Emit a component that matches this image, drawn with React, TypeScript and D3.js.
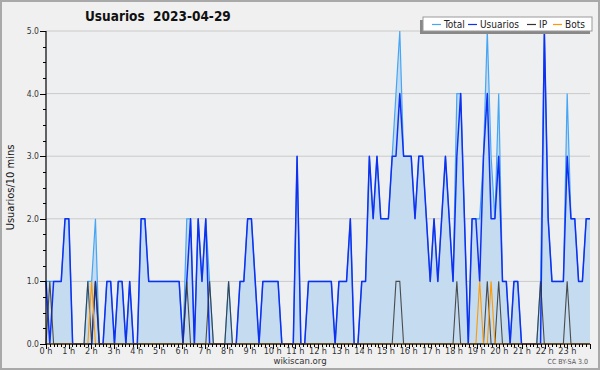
import * as d3 from "d3";

// 10-minute buckets, 0h00 .. 23h50 (144 values), rows of 2 hours
const USUARIOS = [
  1, 0, 1, 1, 1, 2, 2, 0, 0, 0, 0, 0,
  0, 1, 0, 0, 1, 1, 0, 1, 1, 0, 1, 0,
  0, 2, 2, 1, 1, 1, 1, 1, 1, 1, 1, 1,
  0, 1, 2, 0, 2, 1, 2, 0, 0, 0, 0, 0,
  0, 0, 0, 1, 1, 2, 2, 1, 0, 1, 1, 1,
  1, 1, 0, 0, 0, 0, 3, 0, 0, 1, 1, 1,
  1, 1, 1, 1, 0, 1, 1, 1, 2, 0, 0, 1,
  1, 3, 2, 3, 2, 2, 2, 3, 3, 4, 3, 3,
  3, 2, 3, 3, 2, 1, 2, 1, 2, 3, 2, 1,
  3, 4, 2, 0, 2, 2, 1, 3, 4, 2, 2, 3,
  1, 1, 0, 1, 1, 0, 0, 0, 0, 0, 0, 5,
  2, 1, 1, 1, 1, 3, 2, 2, 1, 1, 2, 2,
];

const IP = [
  0, 1, 0, 0, 0, 0, 0, 0, 0, 0, 0, 1,
  0, 1, 0, 0, 0, 0, 0, 0, 0, 0, 0, 0,
  0, 0, 0, 0, 0, 0, 0, 0, 0, 0, 0, 0,
  0, 1, 0, 0, 0, 0, 0, 1, 0, 0, 0, 0,
  1, 0, 0, 0, 0, 0, 0, 0, 0, 0, 0, 0,
  0, 0, 0, 0, 0, 0, 0, 0, 0, 0, 0, 0,
  0, 0, 0, 0, 0, 0, 0, 0, 0, 0, 0, 0,
  0, 0, 0, 0, 0, 0, 0, 0, 1, 1, 0, 0,
  0, 0, 0, 0, 0, 0, 0, 0, 0, 0, 0, 0,
  1, 0, 0, 0, 0, 0, 0, 0, 1, 0, 0, 1,
  0, 0, 0, 0, 0, 0, 0, 0, 0, 0, 1, 0,
  0, 0, 0, 0, 0, 1, 0, 0, 0, 0, 0, 0,
];

const BOTS = [
  0, 0, 0, 0, 0, 0, 0, 0, 0, 0, 0, 0,
  1, 0, 0, 0, 0, 0, 0, 0, 0, 0, 0, 0,
  0, 0, 0, 0, 0, 0, 0, 0, 0, 0, 0, 0,
  0, 0, 0, 0, 0, 0, 0, 0, 0, 0, 0, 0,
  0, 0, 0, 0, 0, 0, 0, 0, 0, 0, 0, 0,
  0, 0, 0, 0, 0, 0, 0, 0, 0, 0, 0, 0,
  0, 0, 0, 0, 0, 0, 0, 0, 0, 0, 0, 0,
  0, 0, 0, 0, 0, 0, 0, 0, 0, 0, 0, 0,
  0, 0, 0, 0, 0, 0, 0, 0, 0, 0, 0, 0,
  0, 0, 0, 0, 0, 0, 1, 0, 0, 1, 0, 0,
  0, 0, 0, 0, 0, 0, 0, 0, 0, 0, 0, 0,
  0, 0, 0, 0, 0, 0, 0, 0, 0, 0, 0, 0,
];

const TOTAL = [
  1, 1, 1, 1, 1, 2, 2, 0, 0, 0, 0, 1,
  1, 2, 0, 0, 1, 1, 0, 1, 1, 0, 1, 0,
  0, 2, 2, 1, 1, 1, 1, 1, 1, 1, 1, 1,
  0, 2, 2, 0, 2, 1, 2, 1, 0, 0, 0, 0,
  1, 0, 0, 1, 1, 2, 2, 1, 0, 1, 1, 1,
  1, 1, 0, 0, 0, 0, 3, 0, 0, 1, 1, 1,
  1, 1, 1, 1, 0, 1, 1, 1, 2, 0, 0, 1,
  1, 3, 2, 3, 2, 2, 2, 3, 4, 5, 3, 3,
  3, 2, 3, 3, 2, 1, 2, 1, 2, 3, 2, 1,
  4, 4, 2, 0, 2, 2, 2, 3, 5, 3, 2, 4,
  1, 1, 0, 1, 1, 0, 0, 0, 0, 0, 1, 5,
  2, 1, 1, 1, 1, 4, 2, 2, 1, 1, 2, 2,
];

const HOUR_LABELS = [
  "0 h", "1 h", "2 h", "3 h", "4 h", "5 h", "6 h", "7 h", "8 h", "9 h", "10 h", "11 h",
  "12 h", "13 h", "14 h", "15 h", "16 h", "17 h", "18 h", "19 h", "20 h", "21 h", "22 h", "23 h",
];
const Y_TICKS = [0, 1, 2, 3, 4, 5];

const LEGEND = [
  { label: "Total", color: "#46a6f4", x: 432 },
  { label: "Usuarios", color: "#1030f0", x: 468 },
  { label: "IP", color: "#333333", x: 527 },
  { label: "Bots", color: "#ff9900", x: 553 },
];

const FONT = "DejaVu Sans Condensed, DejaVu Sans, sans-serif";

export default function App() {
  const width = 600;
  const height = 370;
  const left = 46, right = 590, top = 31, bottom = 344;

  const x = d3.scaleLinear().domain([0, USUARIOS.length - 1]).range([left, right]);
  const hx = d3.scaleLinear().domain([0, 24]).range([left, right]);
  const y = d3.scaleLinear().domain([0, 5]).range([bottom, top]);

  const line = d3
    .line<number>()
    .x((_, i) => x(i))
    .y((d) => y(d));
  const area = d3
    .area<number>()
    .x((_, i) => x(i))
    .y0(y(0))
    .y1((d) => y(d));

  const minorY = d3.range(0, 5.001, 0.25);
  const minorX = d3.range(0, 24.001, 1 / 6);

  return (
    <svg
      width={width}
      height={height}
      style={{ position: "fixed", left: 0, top: 0, display: "block" }}
      fontFamily={FONT}
    >
      <rect x={0} y={0} width={width} height={height} fill="#f0f0f0" />
      <rect x={1} y={1} width={width - 2} height={height - 2} fill="none" stroke="#a9a9a9" strokeWidth={2} />
      <rect x={left} y={top} width={right - left} height={bottom - top} fill="#eeeff1" />

      {/* Title */}
      <text x={85} y={21} fontSize={13.5} fontWeight="bold" fill="#111" style={{ whiteSpace: "pre" }}>
        {"Usuarios  2023-04-29"}
      </text>

      {/* Grid */}
      {Y_TICKS.filter((t) => t > 0).map((t) => (
        <line key={t} x1={left} x2={right} y1={y(t)} y2={y(t)} stroke="#cacaca" strokeWidth={1} />
      ))}

      {/* Area + lines */}
      <path d={area(TOTAL) ?? ""} fill="#c5dcf0" />
      <path d={line(TOTAL) ?? ""} fill="none" stroke="#46a6f4" strokeWidth={1.2} />
      <path d={line(USUARIOS) ?? ""} fill="none" stroke="#1030f0" strokeWidth={1.5} strokeLinejoin="round" />
      <path d={line(IP) ?? ""} fill="none" stroke="#333333" strokeOpacity={0.85} strokeWidth={1.1} />
      <path d={line(BOTS) ?? ""} fill="none" stroke="#ff9900" strokeWidth={1.1} />

      {/* Y axis */}
      <line x1={left} x2={left} y1={top} y2={bottom} stroke="#000" strokeWidth={1.2} />
      {minorY.map((t) => {
        const major = Math.abs(t - Math.round(t)) < 1e-6;
        return (
          <line
            key={t}
            x1={left - (major ? 6 : 3)}
            x2={left}
            y1={Math.round(y(t)) + 0.5}
            y2={Math.round(y(t)) + 0.5}
            stroke="#000"
          />
        );
      })}
      {Y_TICKS.map((t) => (
        <text key={t} x={left - 7} y={y(t) + 3} fontSize={8.5} fill="#333" textAnchor="end">
          {t.toFixed(1)}
        </text>
      ))}
      <text
        transform={`translate(14,${(top + bottom) / 2}) rotate(-90)`}
        fontSize={11}
        fill="#111"
        textAnchor="middle"
      >
        Usuarios/10 mins
      </text>

      {/* X axis */}
      <line x1={left} x2={right} y1={bottom} y2={bottom} stroke="#000" strokeWidth={1.2} />
      {minorX.map((t, i) => (
        <line
          key={i}
          x1={Math.round(hx(t)) + 0.5}
          x2={Math.round(hx(t)) + 0.5}
          y1={bottom}
          y2={bottom + (i % 6 === 0 ? 5 : 3)}
          stroke="#000"
        />
      ))}
      {HOUR_LABELS.map((lab, h) => (
        <text key={lab} x={hx(h)} y={354} fontSize={9} fill="#333" textAnchor="middle">
          {lab}
        </text>
      ))}

      {/* Footer */}
      <text x={300} y={364} fontSize={9.5} fill="#333" textAnchor="middle">
        wikiscan.org
      </text>
      <text x={588} y={364} fontSize={7} fill="#555" textAnchor="end">
        CC BY-SA 3.0
      </text>

      {/* Legend */}
      <rect x={420} y={20} width={170} height={14} fill="#888" />
      <rect x={423} y={17} width={169} height={14} fill="#fff" stroke="#999" strokeWidth={1} />
      {LEGEND.map((d) => (
        <g key={d.label}>
          <line x1={d.x} x2={d.x + 9} y1={24.5} y2={24.5} stroke={d.color} strokeWidth={1.2} />
          <text x={d.x + 12} y={28} fontSize={10} fill="#222">
            {d.label}
          </text>
        </g>
      ))}
    </svg>
  );
}
